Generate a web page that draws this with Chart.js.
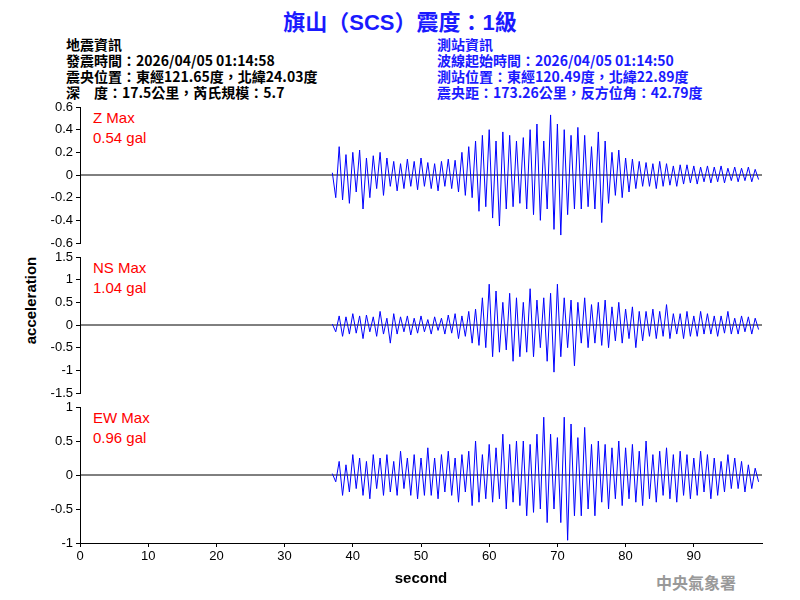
<!DOCTYPE html>
<html><head><meta charset="utf-8">
<script src="https://cdn.jsdelivr.net/npm/chart.js@4"></script>
<style>
body{margin:0;width:800px;height:600px;background:#fff;position:relative;overflow:hidden;font-family:"Noto Sans CJK TC","Liberation Sans",sans-serif}
canvas{position:absolute;left:0;top:0}
.t{position:absolute;white-space:nowrap}
.h{font-size:14px;font-weight:bold;line-height:16px}
.lab{position:absolute;color:#f00;font-family:"Liberation Sans",Arial;font-size:15px;line-height:20px}
</style></head><body>
<div class="t" style="left:0;width:800px;text-align:center;top:4px;color:#1a1aff;font-size:22px;font-weight:bold">旗山（<span style="font-family:'Liberation Sans'">SCS</span>）震度：<span style="font-family:'Liberation Sans'">1</span>級</div>
<div class="t h" style="left:66px;top:36px;color:#000">地震資訊<br>發震時間：2026/04/05 01:14:58<br>震央位置：東經121.65度，北緯24.03度<br>深　度：17.5公里，芮氏規模：5.7</div>
<div class="t h" style="left:437px;top:36px;color:#1a1aff">測站資訊<br>波線起始時間：2026/04/05 01:14:50<br>測站位置：東經120.49度，北緯22.89度<br>震央距：173.26公里，反方位角：42.79度</div>
<div class="lab" style="left:93px;top:108px">Z Max<br>0.54 gal</div>
<div class="lab" style="left:93px;top:258px">NS Max<br>1.04 gal</div>
<div class="lab" style="left:93px;top:408px">EW Max<br>0.96 gal</div>
<div class="t" style="left:-13px;top:292px;transform:rotate(-90deg);font-family:'Liberation Sans';font-size:15px;font-weight:bold">acceleration</div>
<div class="t" style="left:656px;top:570px;color:#999;font-size:16px;font-weight:bold">中央氣象署</div>
<canvas id="c1" width="800" height="600"></canvas>
<canvas id="c2" width="800" height="600"></canvas>
<canvas id="c3" width="800" height="600"></canvas>
<script>
const startTime = 37, sampleStep = 0.5;
const zValues = [0.02,-0.2,0.25,-0.22,0.18,-0.25,0.2,-0.15, 0.22,-0.3,0.15,-0.2,0.17,-0.12,0.2,-0.18, 0.15,-0.1,0.12,-0.14,0.1,-0.12,0.14,-0.1, 0.12,-0.13,0.15,-0.1,0.11,-0.12,0.1,-0.14, 0.12,-0.1,0.14,-0.12,0.13,-0.15,0.2,-0.18, 0.25,-0.2,0.3,-0.32,0.35,-0.28,0.4,-0.38, 0.3,-0.45,0.38,-0.3,0.35,-0.28,0.3,-0.25, 0.33,-0.3,0.4,-0.35,0.45,-0.4,0.3,-0.3, 0.53,-0.48,0.45,-0.53,0.4,-0.35,0.35,-0.3, 0.42,-0.3,0.35,-0.28,0.25,-0.3,0.38,-0.42, 0.3,-0.25,0.2,-0.18,0.22,-0.2,0.15,-0.15, 0.14,-0.12,0.12,-0.1,0.11,-0.1,0.1,-0.12, 0.12,-0.1,0.1,-0.09,0.08,-0.1,0.09,-0.08, 0.09,-0.07,0.08,-0.08,0.07,-0.06,0.08,-0.07, 0.07,-0.06,0.08,-0.07,0.06,-0.05,0.07,-0.06, 0.06,-0.05,0.07,-0.06,0.05,-0.04];
const nsValues = [0.02,-0.15,0.2,-0.25,0.18,-0.2,0.25,-0.18, 0.2,-0.3,0.22,-0.15,0.18,-0.25,0.3,-0.2, 0.15,-0.4,0.25,-0.2,0.18,-0.15,0.2,-0.22, 0.15,-0.18,0.2,-0.15,0.12,-0.2,0.18,-0.12, 0.15,-0.2,0.22,-0.18,0.25,-0.3,0.2,-0.25, 0.3,-0.4,0.35,-0.45,0.6,-0.5,0.9,-0.7, 0.75,-0.6,0.5,-0.55,0.7,-0.8,0.6,-0.7, 0.5,-0.6,0.8,-0.7,0.55,-0.5,0.6,-0.8, 0.7,-1.04,0.9,-0.7,0.6,-0.5,0.55,-0.9, 0.5,-0.4,0.6,-0.5,0.45,-0.4,0.5,-0.45, 0.55,-0.5,0.4,-0.35,0.5,-0.4,0.35,-0.3, 0.4,-0.5,0.3,-0.35,0.3,-0.25,0.35,-0.3, 0.3,-0.25,0.45,-0.3,0.25,-0.2,0.25,-0.3, 0.3,-0.25,0.2,-0.25,0.3,-0.2,0.25,-0.2, 0.2,-0.25,0.2,-0.18,0.3,-0.2,0.15,-0.2, 0.2,-0.15,0.18,-0.2,0.15,-0.1];
const ewValues = [0.02,-0.1,0.2,-0.3,0.15,-0.25,0.3,-0.2, 0.25,-0.3,0.2,-0.35,0.3,-0.2,0.25,-0.3, 0.3,-0.25,0.2,-0.3,0.35,-0.2,0.25,-0.3, 0.3,-0.35,0.25,-0.3,0.4,-0.3,0.25,-0.35, 0.3,-0.25,0.35,-0.3,0.25,-0.4,0.3,-0.25, 0.35,-0.45,0.5,-0.4,0.3,-0.35,0.45,-0.4, 0.4,-0.35,0.6,-0.5,0.45,-0.4,0.5,-0.45, 0.5,-0.6,0.45,-0.55,0.6,-0.5,0.85,-0.7, 0.6,-0.5,0.55,-0.7,0.85,-0.96,0.75,-0.6, 0.55,-0.6,0.7,-0.5,0.45,-0.6,0.5,-0.4, 0.45,-0.5,0.4,-0.35,0.5,-0.45,0.4,-0.35, 0.45,-0.4,0.35,-0.45,0.5,-0.35,0.3,-0.4, 0.35,-0.3,0.4,-0.35,0.3,-0.4,0.35,-0.3, 0.3,-0.35,0.25,-0.3,0.35,-0.25,0.3,-0.35, 0.25,-0.3,0.2,-0.25,0.3,-0.2,0.25,-0.2, 0.2,-0.25,0.15,-0.2,0.1,-0.1];
const xTicks = [0,10,20,30,40,50,60,70,80,90];
const panels = [
 {id:'c1', vals:zValues, min:-0.6, max:0.6, step:0.2, top:107, bottom:243, showX:false},
 {id:'c2', vals:nsValues, min:-1.5, max:1.5, step:0.5, top:257, bottom:393, showX:false},
 {id:'c3', vals:ewValues, min:-1, max:1, step:0.5, top:407, bottom:543, showX:true}
];
const tickFont = {family:'Liberation Sans', size:13};
panels.forEach(p=>{
  const wave = p.vals.map((v,i)=>({x:startTime+i*sampleStep,y:v}));
  new Chart(document.getElementById(p.id),{
    type:'line',
    data:{datasets:[
      {data:wave,borderColor:'#0000ff',borderWidth:1,pointRadius:0,tension:0,order:1},
      {data:[{x:0,y:0},{x:100,y:0}],borderColor:'#000',borderWidth:1,pointRadius:0,order:2}
    ]},
    options:{responsive:false,animation:false,
      layout:{padding:{top:p.top,bottom:p.showX?12:600-p.bottom,right:38,left:0}},
      plugins:{legend:{display:false},tooltip:{enabled:false}},
      scales:{
        x:{type:'linear',min:0,max:100,display:true,
          afterFit:s=>{s.height=p.showX?45:0;},
          afterBuildTicks:s=>{s.ticks=xTicks.map(v=>({value:v}));},
          ticks:{display:p.showX,color:'#000',font:tickFont,maxRotation:0,padding:2},
          grid:{display:p.showX,drawOnChartArea:false,drawTicks:true,tickLength:4,color:'#000'},
          border:{display:p.showX,color:'#000'},
          title:{display:p.showX,text:'second',color:'#000',font:{family:'Liberation Sans',size:15,weight:'bold'},padding:{top:2,bottom:0}}
        },
        y:{min:p.min,max:p.max,
          afterFit:s=>{s.width=80;},
          ticks:{stepSize:p.step,color:'#000',font:tickFont,padding:3,
            callback:v=>String(Math.round(v*10)/10)},
          grid:{drawOnChartArea:false,drawTicks:true,tickLength:4,color:'#000'},
          border:{display:true,color:'#000'}
        }
      }
    }
  });
});
</script>
</body></html>
